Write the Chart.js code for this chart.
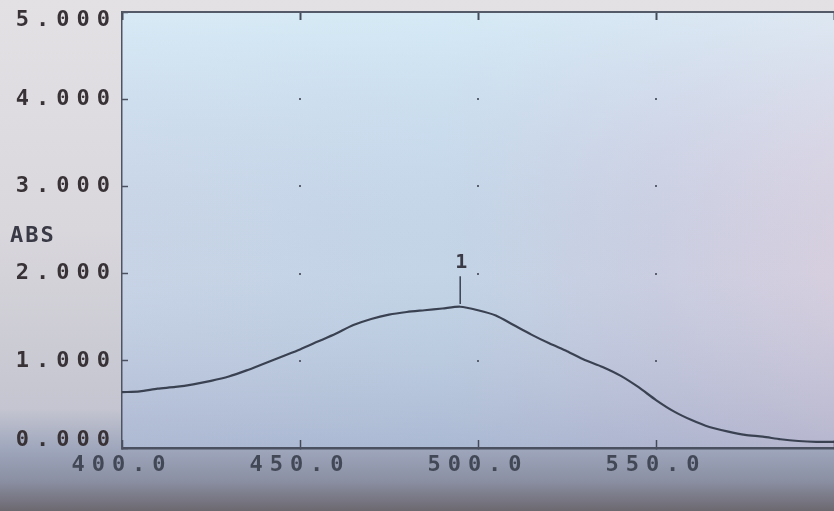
<!DOCTYPE html>
<html>
<head>
<meta charset="utf-8">
<script src="https://cdn.jsdelivr.net/npm/chart.js@4.4.1/dist/chart.umd.min.js"></script>
<style>
  html, body { margin: 0; padding: 0; background: #d8d8de; }
  #wrap { width: 834px; height: 511px; }
</style>
</head>
<body>
<div id="wrap"><canvas id="spectrum" width="834" height="511"></canvas></div>
<script>
/*
DATA
*/
// wavelength (nm) and absorbance
const wavelengths = [400, 405, 410, 415, 420, 425, 430, 435, 440, 445, 450, 455, 460, 465, 470,
  475, 480, 485, 490, 495, 500, 505, 510, 515, 520, 525, 530, 535, 540, 545, 550, 555, 560, 565,
  570, 575, 580, 585, 590, 595, 600];
const absorbance = [0.64, 0.65, 0.68, 0.70, 0.73, 0.77, 0.82, 0.89, 0.97, 1.05, 1.13, 1.22, 1.31,
  1.41, 1.48, 1.53, 1.56, 1.58, 1.60, 1.62, 1.58, 1.52, 1.41, 1.30, 1.20, 1.11, 1.01, 0.93, 0.83,
  0.70, 0.55, 0.42, 0.32, 0.24, 0.19, 0.15, 0.13, 0.10, 0.08, 0.07, 0.07];

// peak marker "1"
const peakWavelength = [495, 495];
const peakMarker = [1.65, 1.97];
const peakLabel = '1';

const xMin = 400, xMax = 600, xStep = 50;
const yMin = 0, yMax = 5, yStep = 1;
const yTitle = 'ABS';

const LCD_FONT = 'DejaVu Sans Mono';
const INK = '#3a3a46';

let canvas = document.getElementById('spectrum');

let curvePoints = wavelengths.map((w, i) => ({x: w, y: absorbance[i]}));
let markerPoints = peakWavelength.map((w, i) => ({x: w, y: peakMarker[i]}));

// faded photo of the instrument screen
const screenBg = {
  id: 'screenBg',
  beforeDraw(chart) {
    const {ctx, width, height, chartArea: a} = chart;
    ctx.save();
    let g = ctx.createLinearGradient(0, 0, 0, height);
    g.addColorStop(0, '#e3e1e4');
    g.addColorStop(0.45, '#d9d7dc');
    g.addColorStop(0.8, '#c4c5d0');
    g.addColorStop(0.88, '#9ea6bc');
    g.addColorStop(0.94, '#8b90a3');
    g.addColorStop(1, '#6c6870');
    ctx.fillStyle = g;
    ctx.fillRect(0, 0, width, height);

    let h = ctx.createLinearGradient(a.left, 0, a.right, 0);
    h.addColorStop(0, '#c9d5e7');
    h.addColorStop(0.45, '#c4d6e8');
    h.addColorStop(0.75, '#cccfe2');
    h.addColorStop(1, '#d8d0e0');
    ctx.fillStyle = h;
    ctx.fillRect(a.left, a.top, a.right - a.left, a.bottom - a.top);

    let v = ctx.createLinearGradient(0, a.top, 0, a.bottom);
    v.addColorStop(0, 'rgba(225,248,255,0.6)');
    v.addColorStop(0.35, 'rgba(215,235,250,0.15)');
    v.addColorStop(0.6, 'rgba(170,180,205,0.05)');
    v.addColorStop(1, 'rgba(140,150,185,0.45)');
    ctx.fillStyle = v;
    ctx.fillRect(a.left, a.top, a.right - a.left, a.bottom - a.top);
    ctx.restore();

    // wide pitch of the dot matrix characters
    ctx.letterSpacing = '7px';
  }
};

// grid dots, y title and peak number
const screenMarks = {
  id: 'screenMarks',
  afterDatasetsDraw(chart) {
    const {ctx, scales} = chart;
    const x = scales.x, y = scales.y;
    ctx.save();
    ctx.fillStyle = '#5a6070';
    for (let xv = xMin + xStep; xv < xMax; xv += xStep) {
      for (let yv = yMin + yStep; yv < yMax; yv += yStep) {
        ctx.fillRect(Math.round(x.getPixelForValue(xv)) - 1, Math.round(y.getPixelForValue(yv)) - 1, 2, 2);
      }
    }
    ctx.fillStyle = INK;
    ctx.font = 'bold 22px "' + LCD_FONT + '"';
    ctx.textBaseline = 'middle';
    ctx.letterSpacing = '2px';
    ctx.textAlign = 'left';
    ctx.fillText(yTitle, 10, y.getPixelForValue(2.43));
    ctx.letterSpacing = '0px';
    ctx.font = 'bold 20px "' + LCD_FONT + '"';
    ctx.textAlign = 'center';
    ctx.fillText(peakLabel, x.getPixelForValue(peakWavelength[0]) + 1, y.getPixelForValue(2.12));
    ctx.restore();
  }
};

let options = {
  responsive: false,
  animation: false,
  layout: {
    padding: {top: 12, right: 0, bottom: 0, left: 0}
  },
  plugins: {
    legend: { display: false },
    tooltip: { enabled: false }
  },
  scales: {
    x: {
      type: 'linear',
      position: 'bottom',
      min: xMin,
      max: xMax,
      afterFit: s => { s.height = 63; s.paddingLeft = 0; s.paddingRight = 0; },
      ticks: {
        stepSize: xStep,
        maxRotation: 0,
        autoSkip: false,
        padding: 12,
        color: '#434856',
        font: {family: LCD_FONT, size: 22, weight: 'bold'},
        callback: v => v < xMax ? v.toFixed(1) : ''
      },
      grid: {
        drawOnChartArea: false,
        tickLength: -8,
        tickColor: '#444a58',
        tickWidth: 1.5
      },
      border: { color: '#4b5060', width: 2.5 }
    },
    xTop: {
      type: 'linear',
      position: 'top',
      min: xMin,
      max: xMax,
      afterFit: s => { s.height = 0; s.paddingLeft = 0; s.paddingRight = 0; },
      ticks: { display: false, stepSize: xStep },
      grid: {
        drawOnChartArea: false,
        tickLength: -8,
        tickColor: '#444a58',
        tickWidth: 2
      },
      border: { color: '#545a68', width: 2 }
    },
    y: {
      min: yMin,
      max: yMax,
      afterFit: s => { s.width = 122; s.paddingTop = 0; s.paddingBottom = 0; },
      ticks: {
        stepSize: yStep,
        padding: 11,
        color: '#383236',
        font: {family: LCD_FONT, size: 22, weight: 'bold', lineHeight: '16px'},
        // end labels sit inside the frame on the screen
        callback: v => {
          let t = v.toFixed(3);
          if (v === yMax) return ['', t];
          if (v === yMin) return [t, ''];
          return t;
        }
      },
      grid: {
        drawOnChartArea: false,
        tickLength: -6,
        tickColor: '#4a5060',
        tickWidth: 1.5
      },
      border: { color: '#4e5462', width: 1.5 }
    }
  }
};

let spectrum = new Chart(canvas, {
  type: 'line',
  data: {
    datasets: [{
      label: 'ABS',
      data: curvePoints,
      borderColor: '#3a4252',
      borderWidth: 2.2,
      pointRadius: 0,
      tension: 0.25,
      fill: false
    }, {
      label: 'peak',
      data: markerPoints,
      borderColor: '#3a4252',
      borderWidth: 1.5,
      pointRadius: 0,
      fill: false
    }]
  },
  options: options,
  plugins: [screenBg, screenMarks]
});
</script>
</body>
</html>
